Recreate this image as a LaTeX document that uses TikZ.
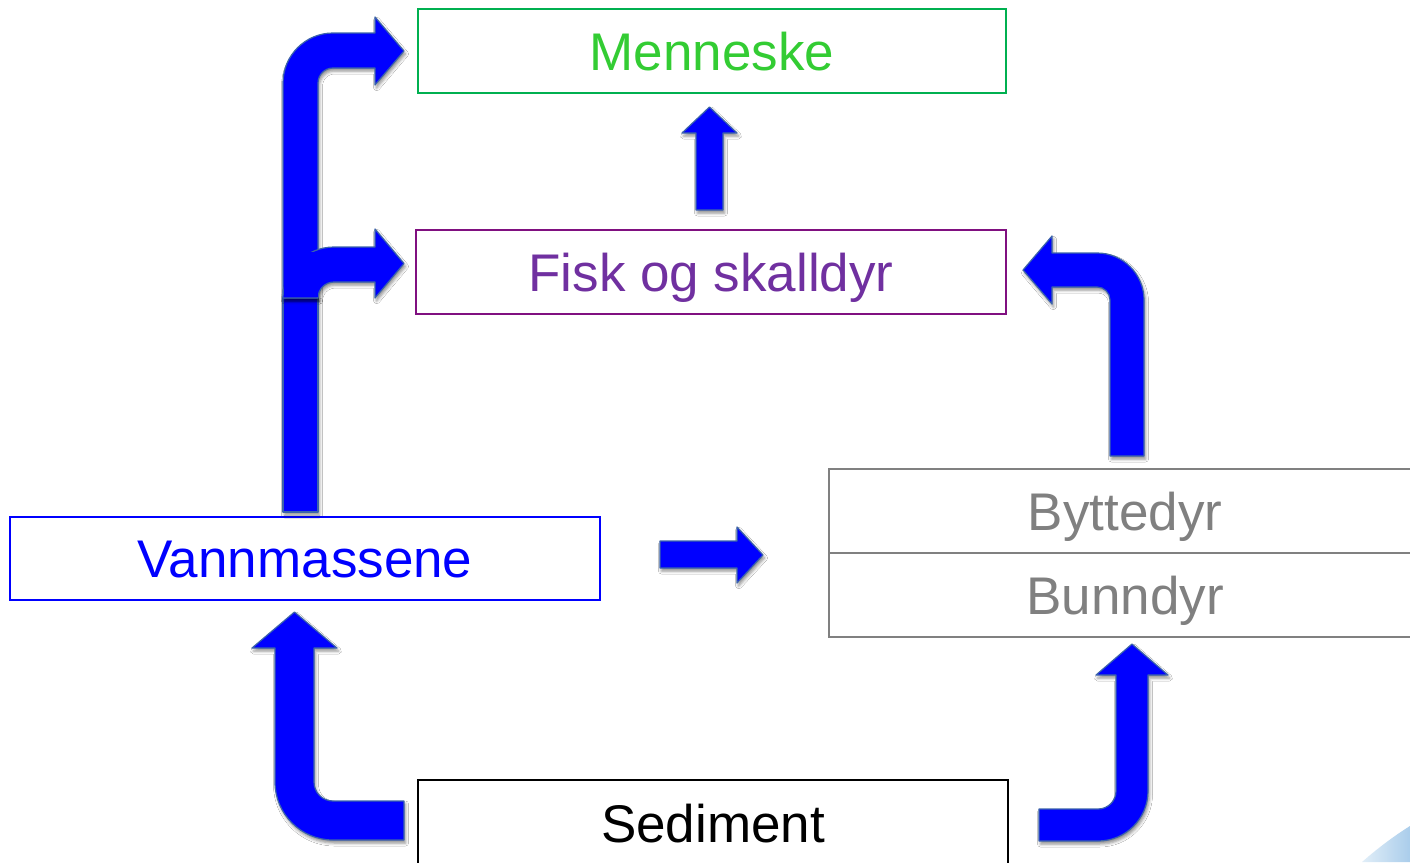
\documentclass[tikz,border=0pt]{standalone}
\usepackage{fontspec}
\setmainfont{Liberation Sans}
\usetikzlibrary{shadows.blur}

\definecolor{arrowfill}{RGB}{0,0,255}
\definecolor{arrowedge}{RGB}{60,100,170}
\definecolor{mgreen}{RGB}{0,176,80}
\definecolor{mgreentext}{RGB}{51,204,51}
\definecolor{fpurple}{RGB}{128,16,128}
\definecolor{fpurpletext}{RGB}{112,48,160}
\definecolor{vblue}{RGB}{0,0,255}
\definecolor{bgray}{RGB}{128,128,128}
\definecolor{swooshdark}{RGB}{170,205,235}
\definecolor{swooshlight}{RGB}{225,238,248}

\tikzset{
  box/.style={draw, rectangle, line width=1.6pt, inner sep=0pt,
    font=\fontsize{53}{60}\selectfont, text height=38pt, text depth=0pt},
  fatarrow/.style={fill=arrowfill, draw=arrowedge, line width=1.2pt, line join=round,
    blur shadow={shadow xshift=1.5pt, shadow yshift=-3pt, shadow blur radius=3pt, shadow opacity=45}},
  fatfill/.style={fill=arrowfill, draw=none}
}

\begin{document}
\begin{tikzpicture}[x=1pt, y=-1pt]
\useasboundingbox (0,0) rectangle (1410,862);
\clip (0,0) rectangle (1410,862);
\fill[white] (0,0) rectangle (1410,862);

% light swoosh in the lower right corner
\shade[left color=swooshlight, right color=swooshdark]
  (1362,862) .. controls (1378,848) and (1394,836) .. (1410,826) -- (1410,862) -- cycle;

% boxes
\node[box, draw=mgreen, text=mgreentext, minimum width=588pt, minimum height=84pt] (menneske) at (712,51) {Menneske};
\node[box, draw=fpurple, text=fpurpletext, minimum width=590pt, minimum height=84pt] (fisk) at (711,272) {Fisk og skalldyr};
\node[box, draw=vblue, text=vblue, minimum width=590pt, minimum height=83pt] (vann) at (305,558.5) {Vannmassene};
\node[box, draw=bgray, text=bgray, minimum width=592pt, minimum height=84pt] (bytte) at (1125,511) {Byttedyr};
\node[box, draw=bgray, text=bgray, minimum width=592pt, minimum height=84pt] (bunn) at (1125,595) {Bunndyr};
\node[box, draw=black, text=black, minimum width=590pt, minimum height=86pt] (sed) at (713,823) {Sediment};

% lower shaft rising from the water masses
\path[fatarrow] (283,298) rectangle (318,512);

% bent arrow up to Menneske
\path[fatarrow] (283,298) -- (283,83)
  arc[start angle=180, end angle=270, radius=50] -- (375,33) -- (375,17) -- (404,51)
  -- (375,85) -- (375,68) -- (333,68)
  arc[start angle=270, end angle=180, radius=15] -- (318,298) -- cycle;

% branch to Fisk og skalldyr
\path[fatarrow] (283,298)
  arc[start angle=180, end angle=270, radius=51] -- (375,247) -- (375,229) -- (404,263.5)
  -- (375,298) -- (375,282) -- (334,282)
  arc[start angle=270, end angle=180, radius=16] -- cycle;
\path[fatfill] (284,252) rectangle (318.4,297.3);

% straight arrow Fisk og skalldyr -> Menneske
\path[fatarrow] (696,210) -- (696,133) -- (682,133) -- (709.5,107) -- (737,133)
  -- (723,133) -- (723,210) -- cycle;

% straight arrow Vannmassene -> Byttedyr
\path[fatarrow] (660,541) -- (737,541) -- (737,527) -- (763,555) -- (737,583)
  -- (737,568) -- (660,568) -- cycle;

% bent arrow Byttedyr -> Fisk og skalldyr
\path[fatarrow] (1110,456) -- (1144,456) -- (1144,300)
  arc[start angle=360, end angle=270, radius=47] -- (1052,253) -- (1052,236)
  -- (1023,270) -- (1052,304) -- (1052,287) -- (1097,287)
  arc[start angle=270, end angle=360, radius=13] -- cycle;

% bent arrow Sediment -> Vannmassene
\path[fatarrow] (404,801) -- (333,801)
  arc[start angle=90, end angle=180, radius=19] -- (314,648) -- (337,648)
  -- (294.5,612) -- (252,648) -- (275,648) -- (275,782)
  arc[start angle=180, end angle=90, radius=58] -- (404,840) -- cycle;

% bent arrow Sediment -> Bunndyr
\path[fatarrow] (1039,809) -- (1098,809)
  arc[start angle=90, end angle=0, radius=18] -- (1116,675) -- (1096,675)
  -- (1132,644) -- (1168,675) -- (1148,675) -- (1148,791)
  arc[start angle=0, end angle=90, radius=50] -- (1039,841) -- cycle;
\end{tikzpicture}
\end{document}
